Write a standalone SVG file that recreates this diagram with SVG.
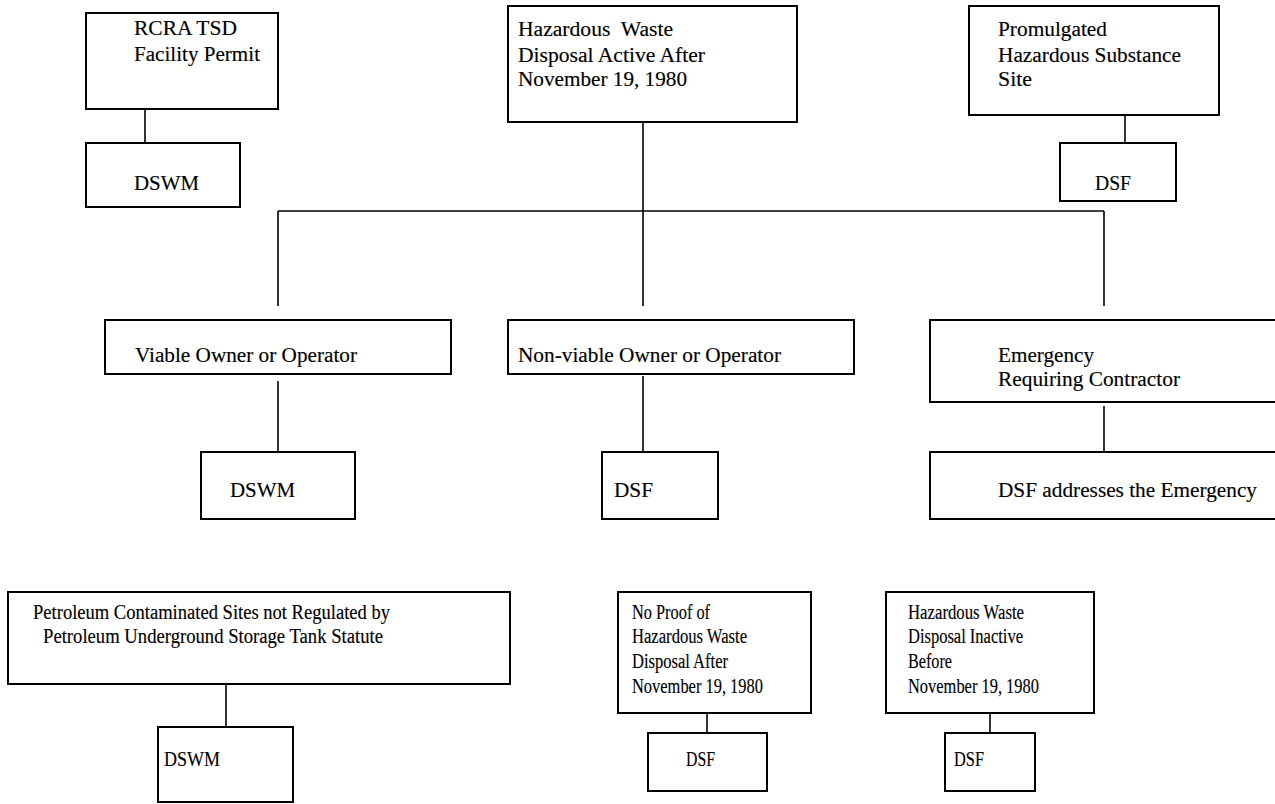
<svg xmlns="http://www.w3.org/2000/svg" width="1275" height="804" viewBox="0 0 1275 804">
<style>
  .box { fill: #fff; stroke: #000; stroke-width: 2; }
  .conn line { stroke: #000; stroke-width: 1.6; }
  text { font-family: "Liberation Serif", "Times New Roman", serif; font-size: 20px; fill: #000; stroke: #000; stroke-width: 0.15; }
  .pre { white-space: pre; }
</style>
<rect width="1275" height="804" fill="#fff"/>
<g id="connectors" class="conn">
  <line x1="145" y1="109" x2="145" y2="143"/>
  <line x1="643" y1="118" x2="643" y2="306"/>
  <line x1="278" y1="211" x2="1104" y2="211"/>
  <line x1="278" y1="211" x2="278" y2="306"/>
  <line x1="1104" y1="211" x2="1104" y2="306"/>
  <line x1="1125" y1="113" x2="1125" y2="144"/>
  <line x1="278" y1="381" x2="278" y2="461"/>
  <line x1="643" y1="376" x2="643" y2="453"/>
  <line x1="1104" y1="406" x2="1104" y2="453"/>
  <line x1="226" y1="683" x2="226" y2="728"/>
  <line x1="707" y1="710" x2="707" y2="736"/>
  <line x1="990" y1="710" x2="990" y2="736"/>
</g>
<g id="rcra">
  <rect class="box" x="86" y="13" width="192" height="96"/>
  <text x="134" y="35" textLength="103" lengthAdjust="spacingAndGlyphs">RCRA TSD</text>
  <text x="134" y="61" textLength="126" lengthAdjust="spacingAndGlyphs">Facility Permit</text>
</g>
<g id="dswm-top">
  <rect class="box" x="86" y="143" width="154" height="64"/>
  <text x="134" y="190" textLength="65" lengthAdjust="spacingAndGlyphs">DSWM</text>
</g>
<g id="hw-active">
  <rect class="box" x="508" y="6" width="289" height="116"/>
  <text class="pre" x="518" y="36" textLength="155" lengthAdjust="spacingAndGlyphs">Hazardous  Waste</text>
  <text x="518" y="62" textLength="187" lengthAdjust="spacingAndGlyphs">Disposal Active After</text>
  <text x="518" y="86" textLength="169" lengthAdjust="spacingAndGlyphs">November 19, 1980</text>
</g>
<g id="promulgated">
  <rect class="box" x="969" y="6" width="250" height="109"/>
  <text x="998" y="36" textLength="109" lengthAdjust="spacingAndGlyphs">Promulgated</text>
  <text x="998" y="62" textLength="183" lengthAdjust="spacingAndGlyphs">Hazardous Substance</text>
  <text x="998" y="86" textLength="34" lengthAdjust="spacingAndGlyphs">Site</text>
</g>
<g id="dsf-top">
  <rect class="box" x="1060" y="143" width="116" height="58"/>
  <text x="1095" y="190" textLength="36" lengthAdjust="spacingAndGlyphs">DSF</text>
</g>
<g id="viable">
  <rect class="box" x="105" y="320" width="346" height="54"/>
  <text x="135" y="362" textLength="222" lengthAdjust="spacingAndGlyphs">Viable Owner or Operator</text>
</g>
<g id="nonviable">
  <rect class="box" x="508" y="320" width="346" height="54"/>
  <text x="518" y="362" textLength="263" lengthAdjust="spacingAndGlyphs">Non-viable Owner or Operator</text>
</g>
<g id="emergency">
  <rect class="box" x="930" y="320" width="352" height="82"/>
  <text x="998" y="362" textLength="96" lengthAdjust="spacingAndGlyphs">Emergency</text>
  <text x="998" y="386" textLength="182" lengthAdjust="spacingAndGlyphs">Requiring Contractor</text>
</g>
<g id="dswm-mid">
  <rect class="box" x="201" y="452" width="154" height="67"/>
  <text x="230" y="497" textLength="65" lengthAdjust="spacingAndGlyphs">DSWM</text>
</g>
<g id="dsf-mid">
  <rect class="box" x="602" y="452" width="116" height="67"/>
  <text x="614" y="497" textLength="39" lengthAdjust="spacingAndGlyphs">DSF</text>
</g>
<g id="dsf-emergency">
  <rect class="box" x="930" y="452" width="352" height="67"/>
  <text x="998" y="497" textLength="259" lengthAdjust="spacingAndGlyphs">DSF addresses the Emergency</text>
</g>
<g id="petroleum">
  <rect class="box" x="8" y="592" width="502" height="92"/>
  <text x="33" y="619" textLength="357" lengthAdjust="spacingAndGlyphs">Petroleum Contaminated Sites not Regulated by</text>
  <text x="43" y="643" textLength="340" lengthAdjust="spacingAndGlyphs">Petroleum Underground Storage Tank Statute</text>
</g>
<g id="dswm-bottom">
  <rect class="box" x="158" y="727" width="135" height="75"/>
  <text x="164" y="766" textLength="56" lengthAdjust="spacingAndGlyphs">DSWM</text>
</g>
<g id="no-proof">
  <rect class="box" x="618" y="592" width="193" height="121"/>
  <text x="632" y="619" textLength="78" lengthAdjust="spacingAndGlyphs">No Proof of</text>
  <text x="632" y="643" textLength="115" lengthAdjust="spacingAndGlyphs">Hazardous Waste</text>
  <text x="632" y="668" textLength="96" lengthAdjust="spacingAndGlyphs">Disposal After</text>
  <text x="632" y="693" textLength="131" lengthAdjust="spacingAndGlyphs">November 19, 1980</text>
</g>
<g id="dsf-noproof">
  <rect class="box" x="648" y="733" width="119" height="58"/>
  <text x="686" y="766" textLength="29" lengthAdjust="spacingAndGlyphs">DSF</text>
</g>
<g id="hw-inactive">
  <rect class="box" x="886" y="592" width="208" height="121"/>
  <text x="908" y="619" textLength="116" lengthAdjust="spacingAndGlyphs">Hazardous Waste</text>
  <text x="908" y="643" textLength="115" lengthAdjust="spacingAndGlyphs">Disposal Inactive</text>
  <text x="908" y="668" textLength="44" lengthAdjust="spacingAndGlyphs">Before</text>
  <text x="908" y="693" textLength="131" lengthAdjust="spacingAndGlyphs">November 19, 1980</text>
</g>
<g id="dsf-inactive">
  <rect class="box" x="945" y="733" width="90" height="58"/>
  <text x="954" y="766" textLength="30" lengthAdjust="spacingAndGlyphs">DSF</text>
</g>
</svg>
